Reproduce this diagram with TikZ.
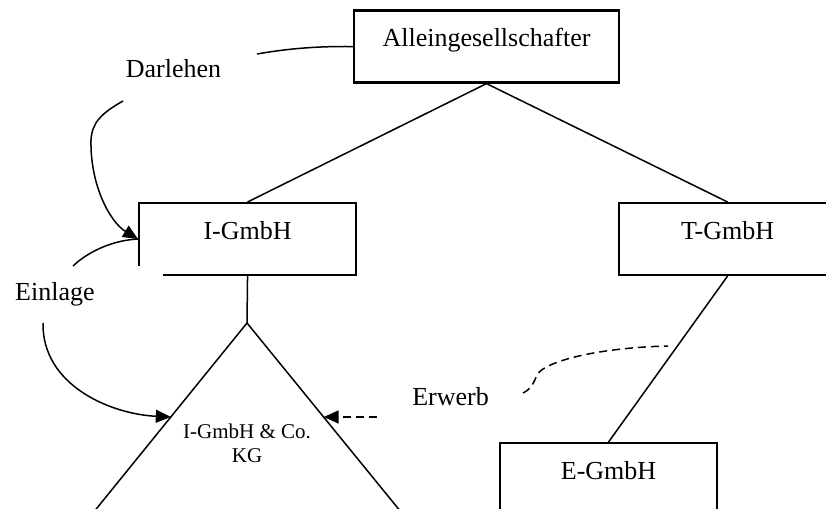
\documentclass[tikz,border=0pt]{standalone}
\usepackage{fontspec}
\setmainfont{Liberation Serif}
\usetikzlibrary{arrows.meta}
\begin{document}
\begin{tikzpicture}[x=1pt,y=-1pt,
  box/.style={draw, line width=2.1pt, inner sep=0pt, minimum width=217pt, text height=36pt, text depth=36pt, font=\fontsize{26}{31}\selectfont},
  lbl/.style={inner sep=0pt, font=\fontsize{26}{31}\selectfont},
  conn/.style={line width=1.5pt},
  tip/.style={-{Triangle[length=15pt,width=13pt]}},
  arr/.style={conn, tip},
  dsh/.style={conn, dash pattern=on 8pt off 5pt}]
\useasboundingbox (0,0) rectangle (826,508);
\clip (0,0) rectangle (826,508);
% boxes
\node[box, minimum width=265pt, anchor=north] (allein) at (486.5,9.5) {Alleingesellschafter};
\node[box, anchor=north west] (igmbh) at (138,202) {I-GmbH};
\node[box, anchor=north west] (tgmbh) at (618,202) {T-GmbH};
\node[box, anchor=north west] (egmbh) at (499,442) {E-GmbH};
% triangle (KG)
\coordinate (apex) at (247,323);
\coordinate (kgL) at (170.8,417);
\coordinate (kgR) at (323.7,417);
\draw[conn] (50,566) -- (apex) -- (445,566);
\node[inner sep=0pt, align=center, font=\fontsize{21}{24}\selectfont] (kg) at (247,443) {I-GmbH \& Co.\\KG};
% tree lines
\draw[conn] (allein.south) -- (igmbh.north);
\draw[conn] (allein.south) -- (tgmbh.north);
\draw[conn] (igmbh.south) -- (apex);
\draw[conn] (tgmbh.south) -- (egmbh.north);
% labels
\node[lbl, anchor=base] (darl) at (173.5,78) {Darlehen};
\node[lbl, fill=white, text width=148pt, align=left, minimum height=57pt, anchor=north west] (einl) at (15,266) {Einlage};
\node[lbl, anchor=base] (erw) at (450.5,405) {Erwerb};
% curve end points
\coordinate (dA) at (257,54);
\coordinate (dB) at (123,101);
\coordinate (eA) at (73,266);
\coordinate (eB) at (43,323);
\coordinate (wA) at (377,417);
\coordinate (wB) at (523,393);
\coordinate (wC) at (668,346);
% Darlehen
\draw[conn] (allein.west) .. controls (310,46) and (280,50) .. (dA);
\draw[arr] (dB) .. controls (102,113) and (92,122) .. (91,140) .. controls (90,185) and (110,222) .. (igmbh.west);
% Einlage
\draw[conn] (eA) .. controls (90,250) and (115,240) .. (igmbh.west);
\draw[arr] (eB) .. controls (42,385) and (110,414) .. (kgL);
% Erwerb
\draw[dsh, tip] (wA) -- (kgR);
\draw[dsh] (wB) .. controls (537,386) and (533,375) .. (543,369) .. controls (565,355) and (620,347) .. (wC);
\end{tikzpicture}
\end{document}
